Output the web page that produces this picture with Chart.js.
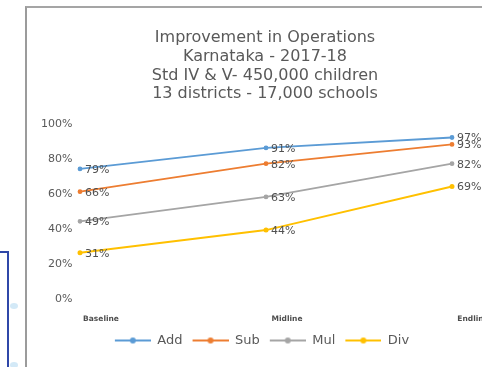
<!DOCTYPE html>
<html lang="en">
<head>
    <meta charset="UTF-8">
    <title>Improvement in Operations</title>
    <script src="https://cdn.jsdelivr.net/npm/chart.js@4.4.0/dist/chart.umd.min.js"></script>
    <style>
        body {
            margin: 0;
            width: 482px;
            height: 367px;
            overflow: hidden;
            background: #fff;
            position: relative;
            font-family: "DejaVu Sans", sans-serif;
        }
        .frame {
            position: absolute;
            left: 25px;
            top: 6px;
            width: 500px;
            height: 400px;
            border-left: 2px solid #9b9b9b;
            border-top: 2px solid #a5a5a5;
        }
        .blue-box {
            position: absolute;
            left: -10px;
            top: 251px;
            width: 15px;
            height: 130px;
            border: 2px solid #2f47a8;
        }
        .dot {
            position: absolute;
            width: 8px;
            height: 6px;
            border-radius: 50%;
            background: #d3e9f7;
        }
        .chart-box {
            position: absolute;
            left: 28px;
            top: 8px;
            width: 474px;
            height: 359px;
        }
    </style>
</head>
<body>
    <div class="blue-box"></div>
    <div class="dot" style="left:10px; top:303px;"></div>
    <div class="dot" style="left:10px; top:362px;"></div>
    <div class="frame"></div>
    <div class="chart-box">
        <canvas id="chart"></canvas>
    </div>

    <script>
        // values as labelled in the picture
        const rounds = ['Baseline', 'Midline', 'Endline'];
        const addValues = [79, 91, 97];
        const subValues = [66, 82, 93];
        const mulValues = [49, 63, 82];
        const divValues = [31, 44, 69];
        const yTicks = [0, 20, 40, 60, 80, 100];
        const titleLines = [
            'Improvement in Operations',
            'Karnataka - 2017-18',
            'Std IV & V- 450,000 children',
            '13 districts - 17,000 schools'
        ];

        const colors = {
            Add: '#5b9bd5',
            Sub: '#ed7d31',
            Mul: '#a5a5a5',
            Div: '#ffc000'
        };

        // line-with-dot marker for the legend (left part kept empty as spacing)
        function legendMarker(color) {
            const c = document.createElement('canvas');
            c.width = 44;
            c.height = 10;
            const ctx = c.getContext('2d');
            ctx.strokeStyle = color;
            ctx.lineWidth = 2;
            ctx.beginPath();
            ctx.moveTo(8, 5);
            ctx.lineTo(44, 5);
            ctx.stroke();
            ctx.fillStyle = color;
            ctx.beginPath();
            ctx.arc(26, 5, 3, 0, Math.PI * 2);
            ctx.fill();
            return c;
        }

        function series(label, values, width) {
            return {
                label: label,
                data: values,
                borderColor: colors[label],
                backgroundColor: colors[label],
                borderWidth: width,
                pointRadius: 1.5,
                pointHoverRadius: 1.5,
                pointStyle: 'circle',
                tension: 0
            };
        }

        // draws "79%" style labels right of each point
        const valueLabels = {
            id: 'valueLabels',
            afterDatasetsDraw(chart) {
                const ctx = chart.ctx;
                ctx.save();
                ctx.font = '11px "DejaVu Sans"';
                ctx.fillStyle = '#505050';
                ctx.textAlign = 'left';
                ctx.textBaseline = 'middle';
                chart.data.datasets.forEach((ds, i) => {
                    chart.getDatasetMeta(i).data.forEach((pt, j) => {
                        ctx.fillText(ds.data[j] + '%', pt.x + 5, pt.y + 1);
                    });
                });
                ctx.restore();
            }
        };

        // legend sits a little left of the title centre in the picture
        const nudgeLegend = {
            id: 'nudgeLegend',
            afterLayout(chart) {
                chart.legend.left -= 7;
                chart.legend.right -= 7;
            }
        };

        const ctx = document.getElementById('chart').getContext('2d');
        new Chart(ctx, {
            type: 'line',
            data: {
                labels: rounds,
                datasets: [
                    series('Add', addValues, 1.8),
                    series('Sub', subValues, 1.8),
                    series('Mul', mulValues, 1.8),
                    series('Div', divValues, 2)
                ]
            },
            options: {
                responsive: true,
                maintainAspectRatio: false,
                animation: false,
                layout: {
                    padding: { left: 0, right: 0, top: 0, bottom: 10 }
                },
                plugins: {
                    title: {
                        display: true,
                        text: titleLines,
                        color: '#595959',
                        font: { family: '"DejaVu Sans"', size: 16, weight: 'normal', lineHeight: 1.16 },
                        padding: { top: 21, bottom: 29 }
                    },
                    legend: {
                        position: 'bottom',
                        labels: {
                            usePointStyle: true,
                            pointStyleWidth: 44,
                            padding: 2,
                            color: '#595959',
                            font: { family: '"DejaVu Sans"', size: 13 },
                            generateLabels(chart) {
                                const items = Chart.defaults.plugins.legend.labels.generateLabels(chart);
                                return items.map(it => Object.assign(it, { pointStyle: legendMarker(colors[it.text]) }));
                            }
                        }
                    },
                    tooltip: { enabled: false }
                },
                scales: {
                    x: {
                        offset: false,
                        grid: { display: false, drawTicks: false },
                        border: { display: false },
                        ticks: {
                            labelOffset: 21,
                            padding: 8,
                            color: '#4d4d4d',
                            font: { family: '"DejaVu Sans"', size: 7.5, weight: 'bold' }
                        }
                    },
                    y: {
                        min: 0,
                        max: 100,
                        afterFit(scale) { scale.width = 52; },
                        afterBuildTicks(scale) { scale.ticks = yTicks.map(v => ({ value: v })); },
                        grid: { display: false, drawTicks: false },
                        border: { display: false },
                        ticks: {
                            labelOffset: -8,
                            padding: 7.5,
                            color: '#595959',
                            font: { family: '"DejaVu Sans"', size: 11 },
                            callback: v => v + '%'
                        }
                    },
                    // empty right-hand strip so the plot ends where it does in the picture
                    yRight: {
                        position: 'right',
                        afterFit(scale) { scale.width = 50; },
                        grid: { display: false, drawTicks: false },
                        border: { display: false },
                        ticks: { display: false }
                    }
                }
            },
            plugins: [valueLabels, nudgeLegend]
        });
    </script>
</body>
</html>
